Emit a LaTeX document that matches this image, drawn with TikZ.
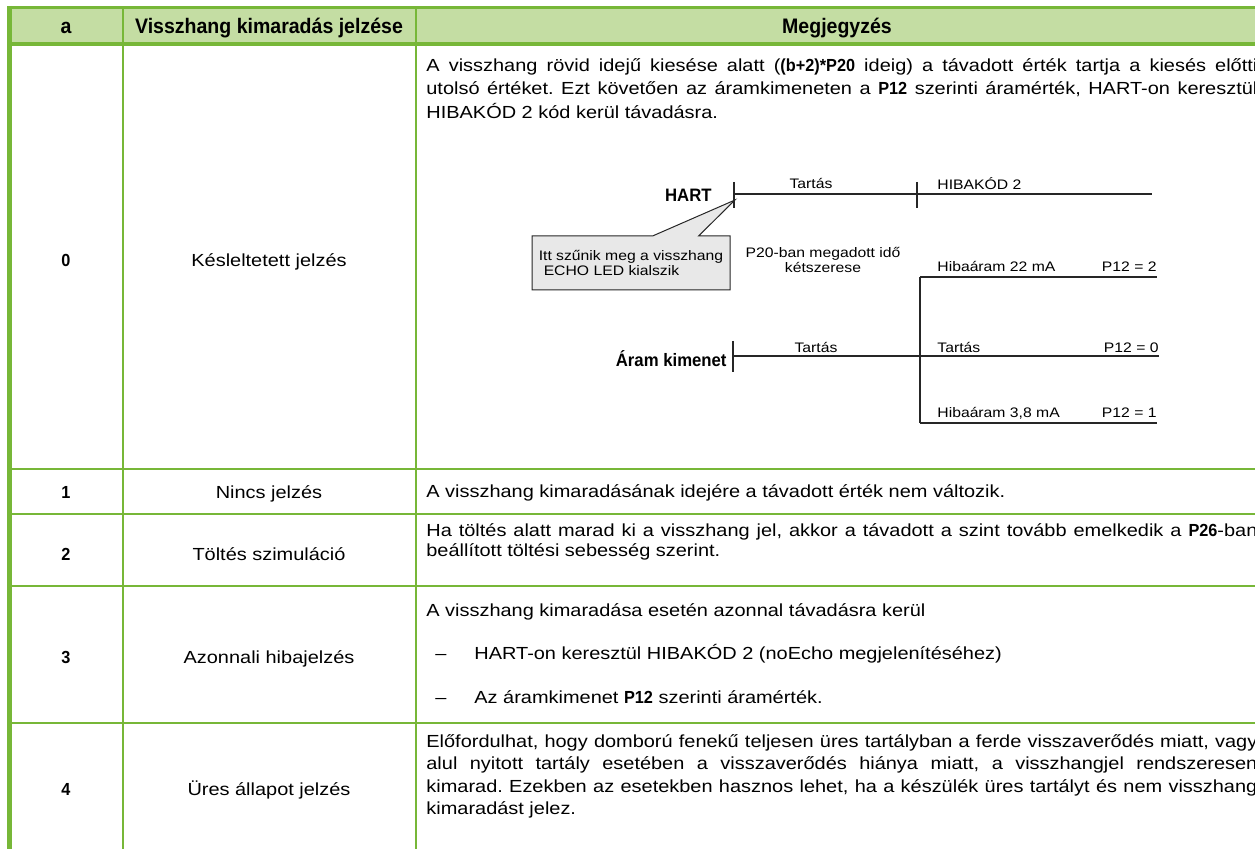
\documentclass[tikz,border=0pt]{standalone}
\usepackage{fontspec}
\setmainfont{Liberation Sans}[UprightFeatures={FakeStretch=1.14}, BoldFeatures={FakeStretch=0.93}]
\usepackage{xcolor}
\usetikzlibrary{shapes.callouts}

\definecolor{tablegreen}{RGB}{119,183,56}
\definecolor{headgreen}{RGB}{196,221,163}

\newcommand{\txtsize}{\fontsize{8.75}{11}\selectfont}
\newcommand{\hdsize}{\fontsize{10.5}{12}\selectfont}
\newcommand{\dgsize}{\fontsize{6.9}{7.2}\selectfont}
\newcommand{\lblsize}{\fontsize{9}{10}\selectfont}
\newcommand{\jline}[1]{\makebox[415.5pt][s]{#1}}
\frenchspacing

\begin{document}
\begin{tikzpicture}[
        x=0.5pt, y=-0.5pt,
        frame/.style={draw=tablegreen, line width=2.2pt},
        rule/.style={draw=tablegreen, line width=1pt},
        colrule/.style={draw=tablegreen, line width=0.9pt},
        head/.style={font=\hdsize\bfseries, inner sep=0pt, anchor=base},
        cell/.style={font=\txtsize, inner sep=0pt, anchor=base},
        txt/.style={font=\txtsize, inner sep=0pt, anchor=base west},
        dtxt/.style={font=\dgsize, inner sep=0pt},
        dlabel/.style={font=\lblsize\bfseries, inner sep=0pt, anchor=base east},
        tl/.style={draw=black!85, line width=0.6pt},
        note/.style={rectangle callout, draw=black!85, fill=black!9, line width=0.5pt, font=\dgsize,
            align=left, minimum width=99pt, minimum height=27pt, inner sep=0pt, callout pointer width=23pt}
    ]

        \useasboundingbox (0,0) rectangle (1255,849);
        \clip (0,0) rectangle (1255,849);

        % Table frame and rules
        \fill[headgreen] (9.7,7.7) rectangle (1270,44.5);
        \draw[colrule] (122.7,7.7) -- (122.7,860);
        \draw[colrule] (415.7,7.7) -- (415.7,860);
        \foreach \y in {469,514,586,723}
            \draw[rule] (9.7,\y) -- (1270,\y);
        \draw[frame, line width=1.65pt] (7.5,7.7) -- (1270,7.7);
        \draw[frame, line width=2pt] (9.7,44.5) -- (1270,44.5);
        \draw[frame, line width=2.35pt] (9.7,6) -- (9.7,860);

        % Header
        \node[head] (hd_a) at (66,33.3) {a};
        \node[head] (hd_sig) at (269,33.3) {Visszhang kimaradás jelzése};
        \node[head] (hd_note) at (837,33.3) {Megjegyzés};

        % First two columns
        \node[cell, font=\txtsize\bfseries] (a0) at (66,266.7) {0};
        \node[cell] (sig0) at (269,266.7) {Késleltetett jelzés};
        \node[cell, font=\txtsize\bfseries] (a1) at (66,499) {1};
        \node[cell] (sig1) at (269,499) {Nincs jelzés};
        \node[cell, font=\txtsize\bfseries] (a2) at (66,560.7) {2};
        \node[cell] (sig2) at (269,560.7) {Töltés szimuláció};
        \node[cell, font=\txtsize\bfseries] (a3) at (66,664) {3};
        \node[cell] (sig3) at (269,664) {Azonnali hibajelzés};
        \node[cell, font=\txtsize\bfseries] (a4) at (66,796) {4};
        \node[cell] (sig4) at (269,796) {Üres állapot jelzés};

        % Row 0: delayed signal
        \node[txt] (note0_a) at (426,71.7) {\jline{A visszhang rövid idejű kiesése alatt (\textbf{(b+2)*P20} ideig) a távadott érték tartja a kiesés előtti}};
        \node[txt] (note0_b) at (426,95) {\jline{utolsó értéket. Ezt követően az áramkimeneten a \textbf{P12} szerinti áramérték, HART-on keresztül}};
        \node[txt] (note0_c) at (426,118.3) {HIBAKÓD 2 kód kerül távadásra.};

        % Row 0: timing diagram, HART
        \node[dlabel] (hart) at (712,202) {HART};
        \coordinate (hart_start) at (734,194);
        \coordinate (hart_switch) at (917,194);
        \coordinate (hart_end) at (1152,194);
        \draw[tl] (hart_start) -- (hart_end);
        \draw[tl] (hart_start) ++(0,-12) -- ++(0,26);
        \draw[tl] (hart_switch) ++(0,-12) -- ++(0,26);
        \node[dtxt, anchor=base] (hart_hold) at (811,189) {Tartás};
        \node[dtxt, anchor=base west] (hart_err) at (937,190) {HIBAKÓD 2};

        \coordinate (tip) at (735,200);
        \node[note, callout absolute pointer={(tip)}] (echo_lost) at (631,263)
            {Itt szűnik meg a visszhang\\\hspace*{2.5pt}ECHO LED kialszik};
        \node[dtxt, align=center] (delay) at (823,260) {P20-ban megadott idő\\kétszerese};

        % Row 0: timing diagram, current output
        \node[dlabel] (current) at (727,367) {Áram kimenet};
        \coordinate (cur_start) at (733,356);
        \coordinate (cur_fork) at (920,356);
        \coordinate (cur_end) at (1159,356);
        \coordinate (fork_top) at (920,277);
        \coordinate (fork_bot) at (920,423);
        \coordinate (top_end) at (1157,277);
        \coordinate (bot_end) at (1157,423);
        \draw[tl] (cur_start) -- (cur_end);
        \draw[tl] (cur_start) ++(0,-15) -- ++(0,31);
        \draw[tl] (fork_top) -- (fork_bot);
        \draw[tl] (fork_top) -- (top_end);
        \draw[tl] (fork_bot) -- (bot_end);
        \node[dtxt, anchor=base] (cur_hold) at (816,353) {Tartás};
        \node[dtxt, anchor=base west] (err22) at (937,272) {Hibaáram 22 mA};
        \node[dtxt, anchor=base east] (p12_2) at (1157,272) {P12 = 2};
        \node[dtxt, anchor=base west] (hold) at (937,353) {Tartás};
        \node[dtxt, anchor=base east] (p12_0) at (1159,353) {P12 = 0};
        \node[dtxt, anchor=base west] (err38) at (937,418) {Hibaáram 3,8 mA};
        \node[dtxt, anchor=base east] (p12_1) at (1157,418) {P12 = 1};

        % Rows 1-4
        \node[txt] (note1) at (426,497.3) {A visszhang kimaradásának idejére a távadott érték nem változik.};

        \node[txt] (note2_a) at (426,536.7) {\jline{Ha töltés alatt marad ki a visszhang jel, akkor a távadott a szint tovább emelkedik a \textbf{P26}-ban}};
        \node[txt] (note2_b) at (426,556.7) {beállított töltési sebesség szerint.};

        \node[txt] (note3_a) at (426,616.7) {A visszhang kimaradása esetén azonnal távadásra kerül};
        \node[txt] (dash3_b) at (435,660) {–};
        \node[txt] (note3_b) at (474,660) {HART-on keresztül HIBAKÓD 2 (noEcho megjelenítéséhez)};
        \node[txt] (dash3_c) at (435,703.3) {–};
        \node[txt] (note3_c) at (474,703.3) {Az áramkimenet \textbf{P12} szerinti áramérték.};

        \node[txt] (note4_a) at (426,747.3) {\jline{Előfordulhat, hogy domború fenekű teljesen üres tartályban a ferde visszaverődés miatt, vagy}};
        \node[txt] (note4_b) at (426,770) {\jline{alul nyitott tartály esetében a visszaverődés hiánya miatt, a visszhangjel rendszeresen}};
        \node[txt] (note4_c) at (426,792.7) {\jline{kimarad. Ezekben az esetekben hasznos lehet, ha a készülék üres tartályt és nem visszhang}};
        \node[txt] (note4_d) at (426,815) {kimaradást jelez.};

    \end{tikzpicture}
\end{document}
